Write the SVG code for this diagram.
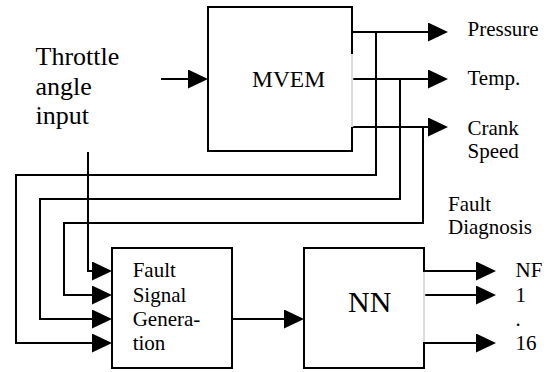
<svg xmlns="http://www.w3.org/2000/svg" width="551" height="372" viewBox="0 0 551 372">
<style>
text{font-family:"Liberation Serif","Times New Roman",serif;fill:#000}
.box{fill:#fff;stroke:#000;stroke-width:2}
.gap{stroke:#fff;stroke-width:2.5}
.thin{stroke:#b8b8b8;stroke-width:1}
.w{fill:none;stroke:#000;stroke-width:2;stroke-linejoin:miter}
.a{marker-end:url(#ah)}
.s21{font-size:21px}
</style>
<defs>
<marker id="ah" markerUnits="userSpaceOnUse" markerWidth="20" markerHeight="19" viewBox="0 0 20 19" refX="0" refY="9.5" orient="auto">
<path d="M0,0 L20,9.5 L0,19 z" fill="#000"/>
</marker>
</defs>
<rect width="551" height="372" fill="#fff"/>
<g id="connectors">
<path class="w a" d="M161,79 H188"/>
<path class="w a" d="M352,32 H428"/>
<path class="w a" d="M352,79 H428"/>
<path class="w a" d="M352,127 H428"/>
<path class="w a" d="M376,32 V175 H16 V343 H92"/>
<path class="w a" d="M400,79 V199 H40 V319 H92"/>
<path class="w a" d="M423,127 V223 H64 V295 H92"/>
<path class="w a" d="M88,152 V271 H92"/>
<path class="w a" d="M232,319 H284"/>
<path class="w a" d="M424,271 H476"/>
<path class="w a" d="M424,295 H476"/>
<path class="w a" d="M424,343 H476"/>
</g>
<g id="throttle">
<text x="35.5" y="65" font-size="26">Throttle</text>
<text x="35.5" y="94.5" font-size="26">angle</text>
<text x="35.5" y="124" font-size="26">input</text>
</g>
<g id="mvem">
<rect class="box" x="208" y="7" width="144" height="144"/>
<line class="gap" x1="352" y1="54" x2="352" y2="127"/>
<line class="thin" x1="352" y1="54" x2="352" y2="127"/>
<text x="252" y="87.3" font-size="23.5">MVEM</text>
</g>
<g id="outputs">
<text class="s21" x="467.5" y="36">Pressure</text>
<text class="s21" x="467.5" y="85">Temp.</text>
<text class="s21" x="467.5" y="135">Crank</text>
<text class="s21" x="467.5" y="158">Speed</text>
</g>
<g id="fault-diagnosis">
<text class="s21" x="448" y="211">Fault</text>
<text class="s21" x="448" y="233.5">Diagnosis</text>
</g>
<g id="fsg">
<rect class="box" x="112" y="248" width="120" height="120"/>
<text class="s21" x="132.7" y="277">Fault</text>
<text class="s21" x="132.7" y="301.5">Signal</text>
<text class="s21" x="132.7" y="326">Genera-</text>
<text class="s21" x="132.7" y="350">tion</text>
</g>
<g id="nn">
<rect class="box" x="304" y="248" width="120" height="120"/>
<line class="gap" x1="424" y1="272" x2="424" y2="342"/>
<line class="thin" x1="424" y1="272" x2="424" y2="342"/>
<text x="348" y="311.7" font-size="30">NN</text>
</g>
<g id="nn-outputs">
<text class="s21" x="515.5" y="277">NF</text>
<text class="s21" x="515.5" y="302">1</text>
<text class="s21" x="515.5" y="326">.</text>
<text class="s21" x="515.5" y="349.5">16</text>
</g>
</svg>
